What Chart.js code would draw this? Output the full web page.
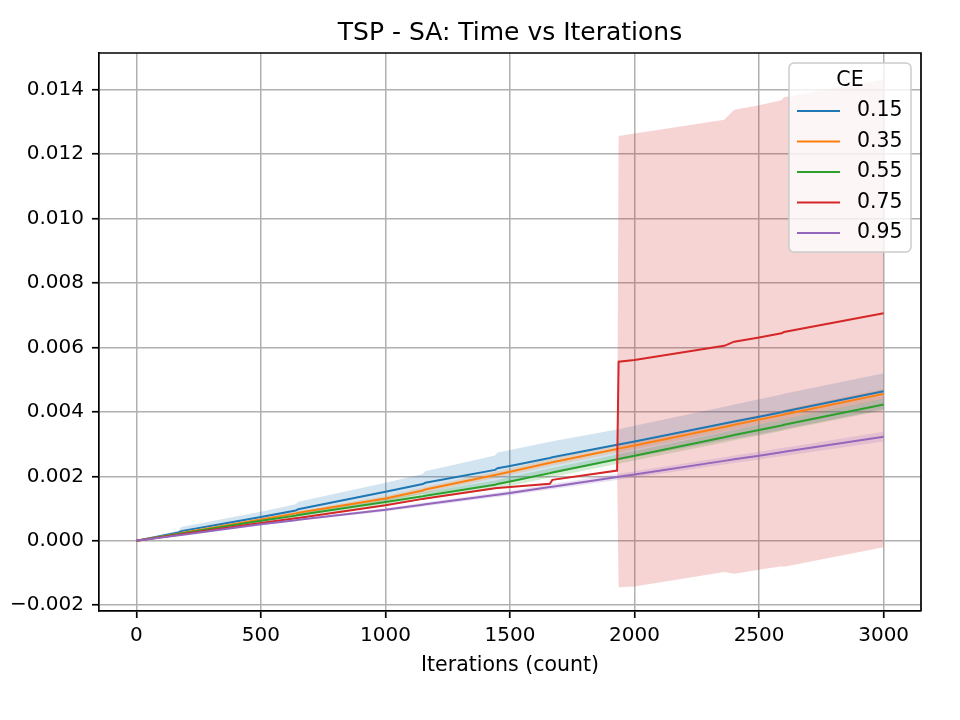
<!DOCTYPE html>
<html>
<head>
<meta charset="utf-8">
<script src="https://cdn.jsdelivr.net/npm/chart.js@4.4.0/dist/chart.umd.min.js"></script>
<style>
  html, body { margin: 0; padding: 0; background: #fff; }
  #wrap { width: 960px; height: 720px; }
</style>
</head>
<body>
<div id="wrap"><canvas id="chart" width="960" height="720"></canvas></div>
<script>
// iterations sampled along the x axis
const iterations = [0, 170, 180, 500, 640, 650, 1000, 1150, 1160, 1440, 1450, 1500,
  1660, 1670, 1930, 1936, 2000, 2360, 2400, 2500, 2590, 2600, 3000];

const ceLabels = ['0.15', '0.35', '0.55', '0.75', '0.95'];

// mean time per CE value
const time015 = [0, 0.00026, 0.00030, 0.00074, 0.00094, 0.00098, 0.00152, 0.00176, 0.00180, 0.00220, 0.00225, 0.00232,
  0.00257, 0.00259, 0.00298, 0.00299, 0.00308, 0.00364, 0.00370, 0.00385, 0.00399, 0.00401, 0.00464];
const time035 = [0, 0.00022, 0.00024, 0.00066, 0.00085, 0.00087, 0.00131, 0.00156, 0.00159, 0.00204, 0.00206, 0.00214,
  0.00242, 0.00244, 0.00285, 0.00286, 0.00296, 0.00353, 0.00360, 0.00376, 0.00390, 0.00392, 0.00456];
const time055 = [0, 0.00021, 0.00023, 0.00062, 0.00078, 0.00080, 0.00120, 0.00138, 0.00140, 0.00174, 0.00176, 0.00184,
  0.00210, 0.00212, 0.00253, 0.00254, 0.00264, 0.00321, 0.00328, 0.00344, 0.00358, 0.00360, 0.00423];
const time075 = [0, 0.00019, 0.00020, 0.00055, 0.00070, 0.00071, 0.00110, 0.00130, 0.00131, 0.00163, 0.00164, 0.00167,
  0.00177, 0.00189, 0.00218, 0.00556, 0.00561, 0.00605, 0.00618, 0.00631, 0.00644, 0.00648, 0.00706];
const time095 = [0, 0.00017, 0.00018, 0.00051, 0.00064, 0.00065, 0.00096, 0.00112, 0.00113, 0.00142, 0.00143, 0.00148,
  0.00167, 0.00168, 0.00198, 0.00199, 0.00206, 0.00248, 0.00253, 0.00264, 0.00275, 0.00276, 0.00323];

// standard deviation per CE value (shaded bands)
const std015 = [0, 0.00006, 0.00013, 0.00016, 0.00019, 0.00023, 0.00028, 0.00031, 0.00036, 0.00045, 0.00049, 0.00050,
  0.00050, 0.00050, 0.00047, 0.00047, 0.00049, 0.00052, 0.00053, 0.00054, 0.00055, 0.00055, 0.00056];
const std035 = [0, 0.00002, 0.00002, 0.00004, 0.00005, 0.00005, 0.00008, 0.00009, 0.00009, 0.00010, 0.00010, 0.00010,
  0.00011, 0.00011, 0.00012, 0.00012, 0.00012, 0.00014, 0.00014, 0.00014, 0.00015, 0.00015, 0.00016];
const std055 = [0, 0.00003, 0.00003, 0.00006, 0.00007, 0.00007, 0.00010, 0.00011, 0.00011, 0.00013, 0.00013, 0.00014,
  0.00014, 0.00014, 0.00015, 0.00015, 0.00015, 0.00016, 0.00016, 0.00017, 0.00017, 0.00017, 0.00018];
const std075 = [0, 0.00002, 0.00002, 0.00002, 0.00002, 0.00002, 0.00002, 0.00002, 0.00002, 0.00002, 0.00002, 0.00002,
  0.00002, 0.00002, 0.00002, 0.00700, 0.00703, 0.00702, 0.00720, 0.00721, 0.00723, 0.00729, 0.00726];
const std095 = [0, 0.00001, 0.00001, 0.00003, 0.00003, 0.00003, 0.00005, 0.00006, 0.00006, 0.00007, 0.00007, 0.00007,
  0.00008, 0.00008, 0.00009, 0.00009, 0.00010, 0.00011, 0.00012, 0.00012, 0.00013, 0.00013, 0.00015];

const yTicks = [-0.002, 0.000, 0.002, 0.004, 0.006, 0.008, 0.010, 0.012, 0.014];
const xTicks = [0, 500, 1000, 1500, 2000, 2500, 3000];

const means = [time015, time035, time055, time075, time095];
const stds = [std015, std035, std055, std075, std095];
const colors = ['31,119,180', '255,127,14', '44,160,44', '214,39,40', '148,103,189'];
const FONT = '"DejaVu Sans", "Liberation Sans", sans-serif';

function toPoints(values) {
  return iterations.map((x, i) => ({ x: x, y: values[i] }));
}

const datasets = [];
means.forEach((m, i) => {
  datasets.push({
    label: ceLabels[i],
    data: toPoints(m),
    borderColor: 'rgb(' + colors[i] + ')',
    borderWidth: 2,
    pointRadius: 0,
    fill: false,
    tension: 0,
    order: 4 - i
  });
});
means.forEach((m, i) => {
  const s = stds[i];
  datasets.push({
    label: ceLabels[i] + ' upper',
    data: toPoints(m.map((v, k) => v + s[k])),
    borderWidth: 0,
    borderColor: 'rgba(0,0,0,0)',
    backgroundColor: 'rgba(' + colors[i] + ',0.2)',
    pointRadius: 0,
    fill: '+1',
    tension: 0,
    order: 20 - i
  });
  datasets.push({
    label: ceLabels[i] + ' lower',
    data: toPoints(m.map((v, k) => v - s[k])),
    borderWidth: 0,
    borderColor: 'rgba(0,0,0,0)',
    pointRadius: 0,
    fill: false,
    tension: 0,
    order: 20 - i
  });
});

// title, axis label, top/right spines and the boxed legend, matplotlib style
const mplDecor = {
  id: 'mplDecor',
  afterDraw(chart) {
    const ctx = chart.ctx;
    const a = chart.chartArea;
    ctx.save();

    ctx.strokeStyle = '#000';
    ctx.lineWidth = 1.7;
    ctx.beginPath();
    ctx.moveTo(a.left, a.top);
    ctx.lineTo(a.right, a.top);
    ctx.lineTo(a.right, a.bottom);
    ctx.stroke();

    ctx.fillStyle = '#000';
    ctx.textAlign = 'center';
    ctx.textBaseline = 'alphabetic';
    ctx.font = '25px ' + FONT;
    ctx.fillText('TSP - SA: Time vs Iterations', (a.left + a.right) / 2, a.top - 13);
    ctx.font = '20.5px ' + FONT;
    ctx.fillText('Iterations (count)', (a.left + a.right) / 2, a.bottom + 60);

    // legend box
    const w = 122, h = 189;
    const bx = a.right - 10 - w, by = a.top + 10;
    ctx.beginPath();
    ctx.roundRect(bx, by, w, h, 5);
    ctx.fillStyle = 'rgba(255,255,255,0.8)';
    ctx.fill();
    ctx.strokeStyle = '#cccccc';
    ctx.lineWidth = 1.5;
    ctx.stroke();

    ctx.font = '20.5px ' + FONT;
    ctx.fillStyle = '#000';
    ctx.textBaseline = 'middle';
    ctx.textAlign = 'center';
    ctx.fillText('CE', bx + w / 2, by + 18);
    ctx.textAlign = 'left';
    ceLabels.forEach((lab, i) => {
      const y = by + 48 + i * 30.5;
      ctx.strokeStyle = 'rgb(' + colors[i] + ')';
      ctx.lineWidth = 2;
      ctx.beginPath();
      ctx.moveTo(bx + 8, y);
      ctx.lineTo(bx + 51, y);
      ctx.stroke();
      ctx.fillStyle = '#000';
      ctx.fillText(lab, bx + 68, y);
    });
    ctx.restore();
  }
};

new Chart(document.getElementById('chart'), {
  type: 'line',
  data: { datasets: datasets },
  plugins: [mplDecor],
  options: {
    responsive: false,
    animation: false,
    devicePixelRatio: 1,
    layout: { padding: { left: 0, top: 53, right: 39, bottom: 0 } },
    plugins: {
      legend: { display: false },
      title: { display: false },
      tooltip: { enabled: false }
    },
    scales: {
      x: {
        type: 'linear',
        min: -150,
        max: 3150,
        afterFit(scale) { scale.height = 109; },
        afterBuildTicks(scale) { scale.ticks = xTicks.map(v => ({ value: v })); },
        ticks: {
          color: '#000',
          font: { family: FONT, size: 20 },
          padding: 6,
          maxRotation: 0,
          callback: v => String(v)
        },
        grid: { color: '#b0b0b0', lineWidth: 1.5, tickColor: '#000', tickLength: 7, tickWidth: 1.7 },
        border: { color: '#000', width: 1.7 }
      },
      y: {
        type: 'linear',
        min: -0.00218,
        max: 0.01514,
        afterFit(scale) { scale.width = 99; },
        afterBuildTicks(scale) { scale.ticks = yTicks.map(v => ({ value: v })); },
        ticks: {
          color: '#000',
          font: { family: FONT, size: 20 },
          padding: 8,
          callback: v => v.toFixed(3).replace('-', '\u2212')
        },
        grid: { color: '#b0b0b0', lineWidth: 1.5, tickColor: '#000', tickLength: 7, tickWidth: 1.7 },
        border: { color: '#000', width: 1.7 }
      }
    }
  }
});
</script>
</body>
</html>
